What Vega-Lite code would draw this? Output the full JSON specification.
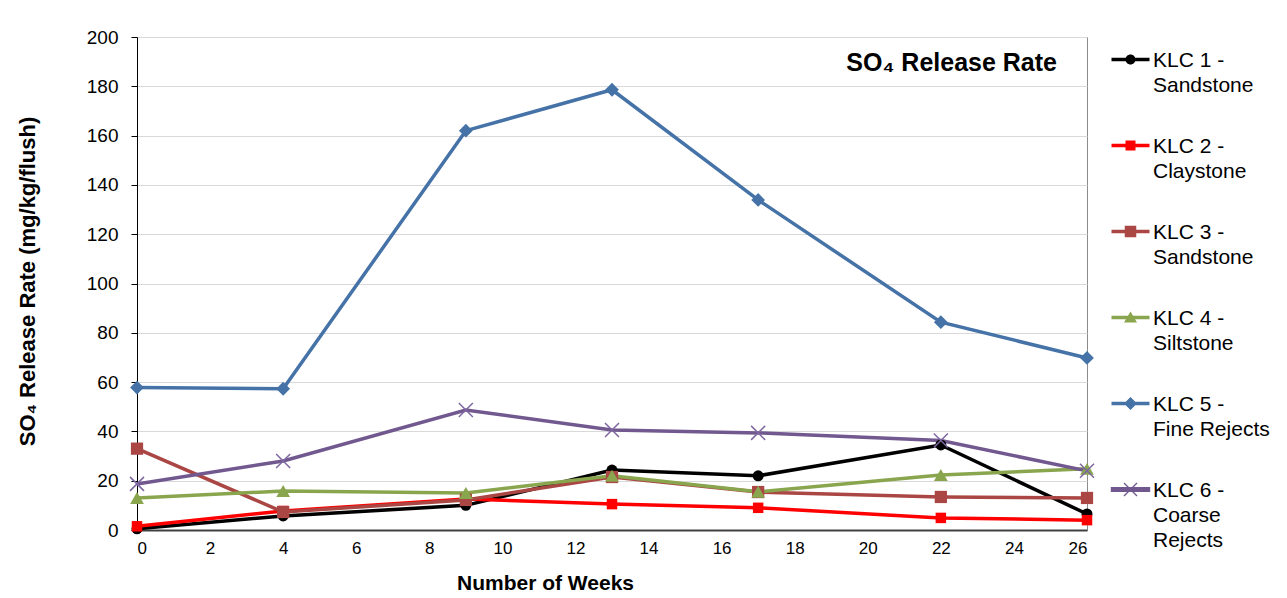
{
  "$schema": "https://vega.github.io/schema/vega-lite/v6.json",
  "width": 950,
  "height": 493,
  "autosize": "none",
  "padding": {"left": 137, "top": 37, "right": 200, "bottom": 68},
  "background": "white",
  "config": {
    "view": {"stroke": "#8C8C8C", "strokeWidth": 1},
    "font": "Liberation Sans",
    "axis": {"labelFont": "Liberation Sans", "titleFont": "Liberation Sans", "labelColor": "#000000", "titleColor": "#000000"}
  },
  "data": {
    "values": [
      {"week": 0, "series": "KLC 1 -|Sandstone", "value": 0.5},
      {"week": 4, "series": "KLC 1 -|Sandstone", "value": 5.7},
      {"week": 9, "series": "KLC 1 -|Sandstone", "value": 10},
      {"week": 13, "series": "KLC 1 -|Sandstone", "value": 24.3},
      {"week": 17, "series": "KLC 1 -|Sandstone", "value": 22},
      {"week": 22, "series": "KLC 1 -|Sandstone", "value": 34.5},
      {"week": 26, "series": "KLC 1 -|Sandstone", "value": 6.5},
      {"week": 0, "series": "KLC 2 -|Claystone", "value": 1.5},
      {"week": 4, "series": "KLC 2 -|Claystone", "value": 7.7},
      {"week": 9, "series": "KLC 2 -|Claystone", "value": 12.6},
      {"week": 13, "series": "KLC 2 -|Claystone", "value": 10.5},
      {"week": 17, "series": "KLC 2 -|Claystone", "value": 9},
      {"week": 22, "series": "KLC 2 -|Claystone", "value": 4.9},
      {"week": 26, "series": "KLC 2 -|Claystone", "value": 4},
      {"week": 0, "series": "KLC 3 -|Sandstone", "value": 33},
      {"week": 4, "series": "KLC 3 -|Sandstone", "value": 7.3},
      {"week": 9, "series": "KLC 3 -|Sandstone", "value": 12.2},
      {"week": 13, "series": "KLC 3 -|Sandstone", "value": 21.5},
      {"week": 17, "series": "KLC 3 -|Sandstone", "value": 15.4},
      {"week": 22, "series": "KLC 3 -|Sandstone", "value": 13.4},
      {"week": 26, "series": "KLC 3 -|Sandstone", "value": 13},
      {"week": 0, "series": "KLC 4 -|Siltstone", "value": 13},
      {"week": 4, "series": "KLC 4 -|Siltstone", "value": 15.8},
      {"week": 9, "series": "KLC 4 -|Siltstone", "value": 15},
      {"week": 13, "series": "KLC 4 -|Siltstone", "value": 22},
      {"week": 17, "series": "KLC 4 -|Siltstone", "value": 15.5},
      {"week": 22, "series": "KLC 4 -|Siltstone", "value": 22.3},
      {"week": 26, "series": "KLC 4 -|Siltstone", "value": 24.8},
      {"week": 0, "series": "KLC 5 -|Fine Rejects", "value": 57.8},
      {"week": 4, "series": "KLC 5 -|Fine Rejects", "value": 57.3},
      {"week": 9, "series": "KLC 5 -|Fine Rejects", "value": 162},
      {"week": 13, "series": "KLC 5 -|Fine Rejects", "value": 178.6},
      {"week": 17, "series": "KLC 5 -|Fine Rejects", "value": 133.9},
      {"week": 22, "series": "KLC 5 -|Fine Rejects", "value": 84.3},
      {"week": 26, "series": "KLC 5 -|Fine Rejects", "value": 69.8},
      {"week": 0, "series": "KLC 6 -|Coarse|Rejects", "value": 18.7},
      {"week": 4, "series": "KLC 6 -|Coarse|Rejects", "value": 28},
      {"week": 9, "series": "KLC 6 -|Coarse|Rejects", "value": 48.7},
      {"week": 13, "series": "KLC 6 -|Coarse|Rejects", "value": 40.6},
      {"week": 17, "series": "KLC 6 -|Coarse|Rejects", "value": 39.4},
      {"week": 22, "series": "KLC 6 -|Coarse|Rejects", "value": 36.3},
      {"week": 26, "series": "KLC 6 -|Coarse|Rejects", "value": 24}
    ]
  },
  "encoding": {
    "x": {
      "field": "week", "type": "quantitative",
      "scale": {"domain": [0, 26], "nice": false, "zero": false},
      "axis": {
        "title": "Number of Weeks",
        "values": [0, 2, 4, 6, 8, 10, 12, 14, 16, 18, 20, 22, 24, 26],
        "grid": false, "ticks": false,
        "domainColor": "#404040", "domainWidth": 2,
        "labelFontSize": 17, "labelPadding": 10,
        "titleFontSize": 21, "titleFontWeight": "bold", "titlePadding": 16,
        "titleX": 408, "titleAlign": "center"
      }
    },
    "y": {
      "field": "value", "type": "quantitative",
      "scale": {"domain": [0, 200], "nice": false},
      "axis": {
        "title": "SO₄ Release Rate  (mg/kg/flush)",
        "values": [0, 20, 40, 60, 80, 100, 120, 140, 160, 180, 200],
        "grid": true, "gridColor": "#D9D9D9", "gridWidth": 1,
        "domainColor": "#000000", "domainWidth": 1,
        "tickColor": "#000000", "tickSize": 6,
        "labelFontSize": 19, "labelPadding": 13,
        "titleFontSize": 22, "titleFontWeight": "bold",
        "titleAngle": 270, "titleAlign": "center", "titleBaseline": "bottom",
        "titleX": -98, "titleY": 244
      }
    }
  },
  "layer": [
    {
      "mark": {"type": "line", "strokeWidth": 3.5},
      "encoding": {
        "color": {
          "field": "series", "type": "nominal",
          "scale": {
            "domain": ["KLC 1 -|Sandstone", "KLC 2 -|Claystone", "KLC 3 -|Sandstone", "KLC 4 -|Siltstone", "KLC 5 -|Fine Rejects", "KLC 6 -|Coarse|Rejects"],
            "range": ["#000000", "#FF0000", "#AA4643", "#89A54E", "#4572A7", "#71588F"]
          },
          "legend": {
            "title": null,
            "orient": "none",
            "legendX": 983,
            "legendY": 12,
            "padding": 0,
            "rowPadding": 39,
            "symbolSize": 100,
            "labelFont": "Liberation Sans",
            "labelFontSize": 21,
            "labelColor": "#000000",
            "labelOffset": 12,
            "labelLimit": 300,
            "labelBaseline": "top",
            "labelExpr": "split(datum.label, '|')",
            "encode": {
              "labels": {"update": {"lineHeight": {"value": 25}, "dy": {"value": -10}}},
              "symbols": {
                "update": {
                  "shape": {"signal": "['M-3.8,-0.35H3.8V0.35H-3.8Z M1,0A1,1 0 1,1 -1,0A1,1 0 1,1 1,0Z', 'M-3.8,-0.35H3.8V0.35H-3.8Z M-1,-1H1V1H-1Z', 'M-3.8,-0.35H3.8V0.35H-3.8Z M-1.15,-1.15H1.15V1.15H-1.15Z', 'M-3.8,-0.35H3.8V0.35H-3.8Z M0,-1.2L1.3,1H-1.3Z', 'M-3.8,-0.35H3.8V0.35H-3.8Z M0,-1.3L1.3,0L0,1.3L-1.3,0Z', 'M-3.8,-0.35H3.8V0.35H-3.8Z M-1.3,-1.3L1.3,1.3M-1.3,1.3L1.3,-1.3'][datum.index]"},
                  "fill": {"signal": "['#000000', '#FF0000', '#AA4643', '#89A54E', '#4572A7', '#71588F'][datum.index]"},
                  "stroke": {"signal": "['#000000', '#FF0000', '#AA4643', '#89A54E', '#4572A7', '#7E66A0'][datum.index]"},
                  "strokeWidth": {"signal": "datum.index == 5 ? 1.4 : 0"},
                  "opacity": {"value": 1},
                  "fillOpacity": {"value": 1}
                }
              }
            }
          }
        }
      }
    },
    {
      "transform": [{"filter": "datum.series != 'KLC 6 -|Coarse|Rejects'"}],
      "mark": {"type": "point", "filled": true, "opacity": 1},
      "encoding": {
        "fill": {
          "field": "series", "type": "nominal",
          "scale": {
            "domain": ["KLC 1 -|Sandstone", "KLC 2 -|Claystone", "KLC 3 -|Sandstone", "KLC 4 -|Siltstone", "KLC 5 -|Fine Rejects"],
            "range": ["#000000", "#FF0000", "#AA4643", "#89A54E", "#4572A7"]
          },
          "legend": null
        },
        "shape": {
          "field": "series", "type": "nominal",
          "scale": {
            "domain": ["KLC 1 -|Sandstone", "KLC 2 -|Claystone", "KLC 3 -|Sandstone", "KLC 4 -|Siltstone", "KLC 5 -|Fine Rejects"],
            "range": ["circle", "square", "square", "triangle-up", "diamond"]
          },
          "legend": null
        },
        "size": {
          "field": "series", "type": "nominal",
          "scale": {
            "type": "ordinal",
            "domain": ["KLC 1 -|Sandstone", "KLC 2 -|Claystone", "KLC 3 -|Sandstone", "KLC 4 -|Siltstone", "KLC 5 -|Fine Rejects"],
            "range": [121, 110, 150, 190, 190]
          },
          "legend": null
        }
      }
    },
    {
      "transform": [{"filter": "datum.series == 'KLC 6 -|Coarse|Rejects'"}],
      "mark": {"type": "point", "filled": false, "shape": "M-1,-1L1,1M-1,1L1,-1", "size": 196, "strokeWidth": 1.5, "stroke": "#7E66A0", "opacity": 1},
      "encoding": {}
    },
    {
      "data": {"values": [{"week": 26, "value": 200, "label": "SO₄ Release Rate"}]},
      "mark": {"type": "text", "align": "right", "baseline": "alphabetic", "dx": -30, "dy": 34, "font": "Liberation Sans", "fontSize": 25, "fontWeight": "bold", "color": "#000000"},
      "encoding": {
        "text": {"field": "label"}
      }
    }
  ]
}
